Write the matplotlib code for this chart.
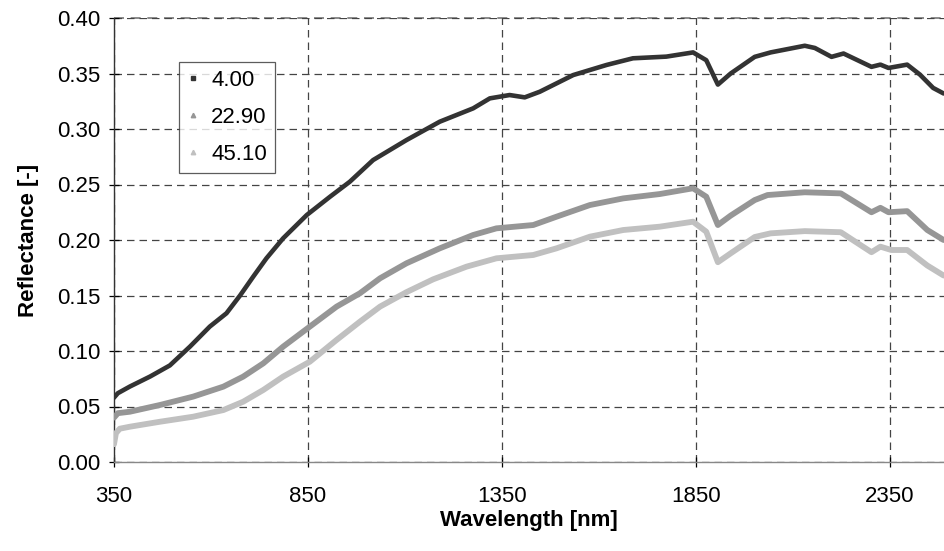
import matplotlib
matplotlib.use("Agg")
import matplotlib.pyplot as plt
from matplotlib.lines import Line2D

plt.rcParams['font.family'] = ['Liberation Sans', 'DejaVu Sans']

# Wavelength [nm] / reflectance readings
wl_a = [350, 360, 391, 443, 494, 546, 597, 640, 675, 709, 743, 786, 847, 907, 958,
        1018, 1104, 1190, 1276, 1319, 1370, 1409, 1448, 1534, 1620, 1688, 1774, 1843,
        1877, 1907, 1940, 2002, 2043, 2131, 2157, 2200, 2231, 2303, 2326, 2347, 2395,
        2428, 2462, 2489]
refl_a = [0.058, 0.062, 0.068, 0.077, 0.087, 0.104, 0.122, 0.134, 0.150, 0.167, 0.1835,
          0.2015, 0.2225, 0.239, 0.2525, 0.272, 0.290, 0.3066, 0.3186, 0.3276, 0.3306,
          0.3285, 0.3336, 0.3486, 0.3577, 0.3637, 0.3652, 0.369, 0.362, 0.340, 0.350,
          0.365, 0.369, 0.375, 0.373, 0.365, 0.368, 0.356, 0.358, 0.355, 0.358, 0.349,
          0.337, 0.332]

wl_b = [350, 360, 391, 469, 554, 632, 683, 735, 786, 855, 924, 984, 1036, 1104, 1190,
        1276, 1336, 1431, 1491, 1577, 1663, 1757, 1843, 1877, 1907, 1940, 2002, 2035,
        2131, 2224, 2303, 2326, 2347, 2395, 2447, 2489]
refl_b = [0.040, 0.044, 0.0453, 0.0514, 0.0589, 0.0679, 0.0769, 0.0889, 0.1039, 0.122,
          0.140, 0.152, 0.1655, 0.179, 0.1925, 0.2045, 0.2105, 0.2135, 0.221, 0.2315,
          0.2375, 0.2414, 0.2466, 0.239, 0.2135, 0.222, 0.236, 0.2405, 0.243, 0.242,
          0.225, 0.229, 0.225, 0.226, 0.209, 0.200]

wl_c = [350, 355, 365, 391, 469, 554, 632, 683, 735, 786, 855, 924, 984, 1036, 1104,
        1173, 1259, 1336, 1431, 1491, 1577, 1663, 1757, 1843, 1877, 1907, 1940, 2002,
        2043, 2131, 2224, 2303, 2326, 2354, 2395, 2447, 2489]
refl_c = [0.016, 0.026, 0.030, 0.0318, 0.0363, 0.0408, 0.0468, 0.0543, 0.0649, 0.0769,
          0.0904, 0.110, 0.1264, 0.140, 0.153, 0.1646, 0.176, 0.1835, 0.1865, 0.1925,
          0.203, 0.209, 0.212, 0.2165, 0.2075, 0.180, 0.188, 0.2027, 0.206, 0.208,
          0.207, 0.189, 0.194, 0.191, 0.191, 0.177, 0.168]

labels = ["4.00", "22.90", "45.10"]
colors = ["#333333", "#969696", "#c0c0c0"]
x_ticks = [350, 850, 1350, 1850, 2350]
y_ticks = [0.00, 0.05, 0.10, 0.15, 0.20, 0.25, 0.30, 0.35, 0.40]

fig = plt.figure(figsize=(9.44, 5.51), dpi=100)
ax = fig.add_axes([114/944, 1-462/551, 1-114/944, (462-18)/551])

series = [(wl_a, refl_a), (wl_b, refl_b), (wl_c, refl_c)]
widths = [3.3, 4.2, 4.2]
for (x, y), c, lw in zip(series, colors, widths):
    ax.plot(x, y, color=c, lw=lw, solid_joinstyle='round', solid_capstyle='round', zorder=3)

ax.set_xlim(350, 2490)
ax.set_ylim(0, 0.40)
ax.set_xticks(x_ticks)
ax.set_yticks(y_ticks)
ax.set_xticklabels([str(v) for v in x_ticks])
ax.set_yticklabels([f"{v:.2f}" for v in y_ticks])
ax.tick_params(axis='both', labelsize=16, colors='black', direction='inout', length=7, width=0.9)
ax.tick_params(axis='x', pad=14)
ax.tick_params(axis='y', pad=6)

ax.grid(True, color='#444444', linestyle=(0, (6, 4)), lw=0.9, zorder=1)
for s in ['top', 'right']:
    ax.spines[s].set_visible(False)
ax.spines['left'].set_color('#333333')
ax.spines['left'].set_linewidth(1.0)
ax.spines['bottom'].set_color('#888888')
ax.spines['bottom'].set_linewidth(1.0)
ax.axhline(0.40, color='#777777', linestyle=(0, (6, 4)), lw=1.2, zorder=1, clip_on=False)

ax.set_xlabel("Wavelength [nm]", fontsize=16, fontweight='bold', labelpad=2)
ax.set_ylabel("Reflectance [-]", fontsize=16, fontweight='bold', labelpad=13)

handles = [
    Line2D([], [], color=colors[0], marker='s', markersize=2.2, linestyle='None'),
    Line2D([], [], color=colors[1], marker='^', markersize=3.2, linestyle='None'),
    Line2D([], [], color=colors[2], marker='^', markersize=3.2, linestyle='None'),
]
leg = ax.legend(handles, labels, loc='upper left', bbox_to_anchor=((179-114)/830, (462-62)/444),
                fontsize=16, frameon=True, fancybox=False, edgecolor='#333333',
                handlelength=0.6, handletextpad=0.5, borderpad=0.35, labelspacing=0.72,
                borderaxespad=0)
leg.get_frame().set_linewidth(0.9)
leg.set_zorder(5)

fig.savefig("out.png", dpi=100)
